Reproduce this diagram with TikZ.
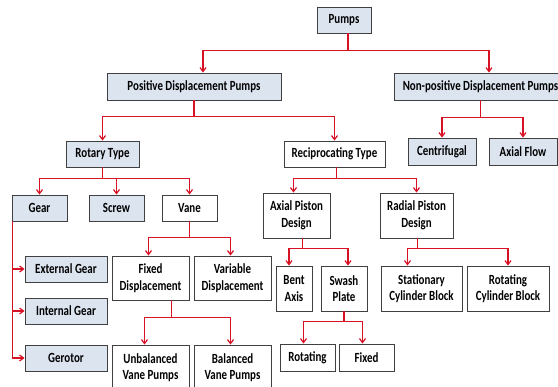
\documentclass[tikz,border=0pt]{standalone}
\usepackage{fontspec}
\setmainfont{Carlito}[FakeStretch=0.78]
\usetikzlibrary{positioning, calc, arrows.meta}
\definecolor{boxblue}{RGB}{220,228,240}
\definecolor{linkred}{RGB}{214,18,36}
\definecolor{boxedge}{RGB}{64,64,64}
\newcommand{\chartfont}{\bfseries\fontsize{14}{16.5}\selectfont}

\begin{document}
\begin{tikzpicture}[align=center, x=1pt, y=-1pt]
        \chartfont
       \tikzstyle{box} = [
            rectangle,
            draw=boxedge,
            line width=0.9pt,
            fill=white,
            inner sep=0pt,
            minimum height=26pt
       ]
       \tikzstyle{bluebox} = [box, fill=boxblue]
       \tikzstyle{tallbox} = [box, minimum height=45pt]
       \tikzstyle{arrow} = [draw=linkred, line width=1.2pt, -{Straight Barb[length=4pt, width=6pt]}]
       \useasboundingbox (0,0) rectangle (558,387);

       \node (pumps) [bluebox, minimum width=54pt] at (344,20) {Pumps};
       \node (positive) [bluebox, minimum width=174pt, minimum height=27pt] at (194,86.5) {Positive Displacement Pumps};
       \node (nonpositive) [bluebox, minimum width=173pt, minimum height=27pt] at (480.5,86.5) {Non-positive Displacement Pumps};

       \node (rotary) [bluebox, minimum width=73pt] at (102.5,154) {Rotary Type};
       \node (reciprocating) [box, minimum width=101pt] at (334.5,154) {Reciprocating Type};
       \node (centrifugal) [bluebox, minimum width=68pt, minimum height=27pt] at (442,151.5) {Centrifugal};
       \node (axialflow) [bluebox, minimum width=68pt, minimum height=27pt] at (523,151.5) {Axial Flow};

       \node (gear) [bluebox, minimum width=55pt] at (39.5,208) {Gear};
       \node (screw) [bluebox, minimum width=55pt] at (116.5,208) {Screw};
       \node (vane) [box, minimum width=55pt] at (189.5,208) {Vane};
       \node (axialpiston) [tallbox, minimum width=67pt] at (296.5,215.5) {Axial Piston\\Design};
       \node (radialpiston) [tallbox, minimum width=73pt] at (416.5,215.5) {Radial Piston\\Design};

       \node (externalgear) [bluebox, minimum width=82pt] at (66,269) {External Gear};
       \node (internalgear) [bluebox, minimum width=82pt] at (66,311) {Internal Gear};
       \node (gerotor) [bluebox, minimum width=82pt] at (66,358) {Gerotor};

       \node (fixeddisp) [box, minimum width=77pt, minimum height=44pt] at (150.5,278) {Fixed\\Displacement};
       \node (variabledisp) [box, minimum width=77pt, minimum height=44pt] at (232.5,278) {Variable\\Displacement};
       \node (bentaxis) [tallbox, minimum width=36pt] at (294,288.5) {Bent\\Axis};
       \node (swashplate) [tallbox, minimum width=46pt] at (344,288.5) {Swash\\Plate};
       \node (stationary) [tallbox, minimum width=81pt] at (421.5,288.5) {Stationary\\Cylinder Block};
       \node (rotatingblock) [tallbox, minimum width=82pt] at (508,288.5) {Rotating\\Cylinder Block};

       \node (unbalanced) [tallbox, minimum width=77pt] at (150.5,367.5) {Unbalanced\\Vane Pumps};
       \node (balanced) [tallbox, minimum width=77pt] at (232.5,367.5) {Balanced\\Vane Pumps};
       \node (rotating) [box, minimum width=55pt, minimum height=27pt] at (307.5,357.5) {Rotating};
       \node (fixed) [box, minimum width=55pt, minimum height=27pt] at (366.5,357.5) {Fixed};

       \draw[arrow] ([xshift=4pt]pumps.south) -- ++(0,17) -| ([xshift=9pt]positive.north);
       \draw[arrow] ([xshift=4pt]pumps.south) -- ++(0,17) -| ([xshift=8.5pt]nonpositive.north);
       \draw[arrow] (positive.south) -- ++(0,16) -| (rotary.north);
       \draw[arrow] (positive.south) -- ++(0,16) -| (reciprocating.north);
       \draw[arrow] (nonpositive.south) -- ++(0,17) -| (centrifugal.north);
       \draw[arrow] (nonpositive.south) -- ++(0,17) -| (axialflow.north);
       \draw[arrow] (rotary.south) -- ++(0,11) -| (gear.north);
       \draw[arrow] (rotary.south) -- ++(0,11) -| (screw.north);
       \draw[arrow] (rotary.south) -- ++(0,11) -| (vane.north);
       \draw[arrow] ([xshift=2pt]reciprocating.south) -- ++(0,11) -| ([xshift=-3pt]axialpiston.north);
       \draw[arrow] ([xshift=2pt]reciprocating.south) -- ++(0,11) -| (radialpiston.north);
       \draw[arrow] ([xshift=1pt]gear.south west) |- (externalgear.west);
       \draw[arrow] ([xshift=1pt]gear.south west) |- (internalgear.west);
       \draw[arrow] ([xshift=1pt]gear.south west) |- (gerotor.west);
       \draw[arrow] (vane.south) -- ++(0,16) -| ([xshift=-2pt]fixeddisp.north);
       \draw[arrow] (vane.south) -- ++(0,16) -| ([xshift=-2pt]variabledisp.north);
       \draw[arrow] ([xshift=21pt]fixeddisp.south) -- ++(0,17) -| ([xshift=-6pt]unbalanced.north);
       \draw[arrow] ([xshift=21pt]fixeddisp.south) -- ++(0,17) -| ([xshift=-2pt]balanced.north);
       \draw[arrow] ([xshift=6pt]axialpiston.south) -- ++(0,10) -| ([xshift=-5pt]bentaxis.north);
       \draw[arrow] ([xshift=6pt]axialpiston.south) -- ++(0,10) -| ([xshift=4pt]swashplate.north);
       \draw[arrow] ([xshift=1pt]radialpiston.south) -- ++(0,10) -| ([xshift=-14pt]stationary.north);
       \draw[arrow] ([xshift=1pt]radialpiston.south) -- ++(0,10) -| (rotatingblock.north);
       \draw[arrow] (swashplate.south) -- ++(0,10) -| ([xshift=-4pt]rotating.north);
       \draw[arrow] (swashplate.south) -- ++(0,10) -| ([xshift=-4pt]fixed.north);
    \end{tikzpicture}
\end{document}
